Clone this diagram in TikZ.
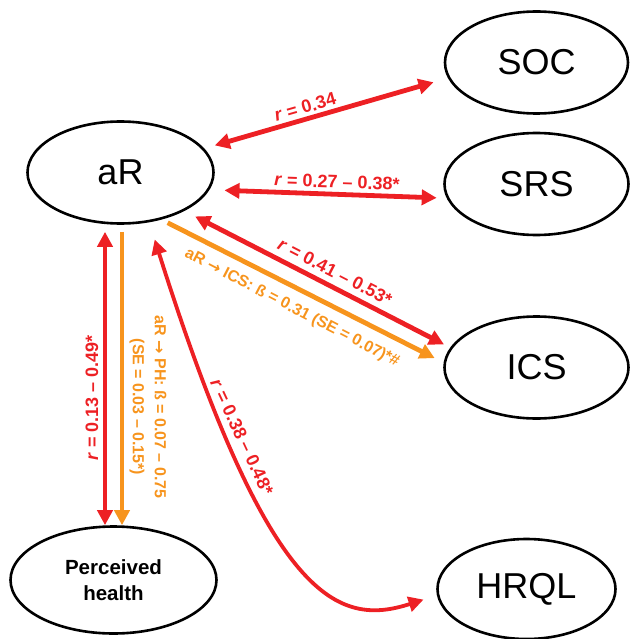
\documentclass[tikz,border=0pt]{standalone}
\usepackage{fontspec}
\setmainfont{Liberation Sans}
\newfontfamily\arrowfont{DejaVu Sans}
\usepackage{tikz}
\usetikzlibrary{arrows.meta, shapes.geometric, calc}
\definecolor{figR}{RGB}{237,32,36}
\definecolor{figO}{RGB}{247,148,29}
\newcommand{\rarr}{{\arrowfont →}}
\tikzset{
  var/.style={ellipse, draw, line width=2.6pt, inner sep=0pt,
    minimum width=184pt, minimum height=102pt, font=\fontsize{36}{40}\selectfont},
  corr/.style={figR, line width=4.8pt,
    {Triangle[length=15pt,width=15pt]}-{Triangle[length=15pt,width=15pt]}},
  effect/.style={figO, line width=4.8pt, -{Triangle[length=15pt,width=15pt]}},
  rlab/.style={figR, inner sep=0pt, font=\fontsize{18}{21}\selectfont\bfseries},
  olab/.style={figO, inner sep=0pt, align=center, font=\fontsize{16}{22}\selectfont\bfseries}
}

\begin{document}
\begin{tikzpicture}[x=1pt, y=-1pt]
\useasboundingbox (0,0) rectangle (630,639);
% ===== variables =====
\node[var, minimum width=186pt, minimum height=102pt] (aR) at (120.5,172.5) {aR};
\node[var, minimum width=183pt] (SOC) at (536.5,62.5) {SOC};
\node[var] (SRS) at (536.5,184) {SRS};
\node[var] (ICS) at (536.5,367.5) {ICS};
\node[var, minimum width=178pt, minimum height=100pt] (HRQL) at (526.5,589) {HRQL};
\node[var, minimum width=206pt, minimum height=107pt, align=center,
  font=\fontsize{20.5}{26}\selectfont\bfseries] (PH) at (113.5,580) {Perceived\\health};
% ===== correlations (red) =====
\draw[corr, shorten <=11pt, shorten >=15pt] (aR.16) -- (SOC.190);
\draw[corr, shorten <=15pt, shorten >=10pt] (aR.349) -- (SRS.189);
\draw[corr, shorten <=12pt, shorten >=7pt] (aR.329) -- (ICS.167);
\draw[corr, shorten <=7pt] ([xshift=-15.5pt]aR.south) -- ([xshift=-15.5pt]aR.south |- PH.north);
\draw[corr, line width=3.8pt, shorten <=18pt, shorten >=14pt]
  (aR.300) .. controls +(120,380) and +(-99,32) .. (HRQL.184);
% ===== regression paths (orange) =====
\draw[effect, shorten <=7pt, shorten >=10pt] (aR.311) -- (ICS.177);
\draw[effect, shorten <=7pt] ([xshift=1.5pt]aR.south) -- ([xshift=1.5pt]aR.south |- PH.north);
% ===== labels =====
\node[rlab, rotate=16] (lSOC) at (305,107) {\textit{r} = 0.34};
\node[rlab, rotate=-2] (lSRS) at (337,182) {\textit{r} = 0.27 – 0.38*};
\node[rlab, rotate=-27.3] (lICS) at (335,272) {\textit{r} = 0.41 – 0.53*};
\node[olab, rotate=-27.4] (bICS) at (292,308) {aR \rarr{} ICS: ß = 0.31 (SE = 0.07)*\#};
\node[rlab, rotate=90] (lPH) at (92,398) {\textit{r} = 0.13 – 0.49*};
\node[olab, rotate=-90] (bPH) at (148,407) {aR \rarr{} PH: ß = 0.07 – 0.75\\(SE = 0.03 – 0.15*)};
\node[rlab, rotate=-65] (lHRQL) at (242,437) {\textit{r} = 0.38 – 0.48*};
\end{tikzpicture}
\end{document}
